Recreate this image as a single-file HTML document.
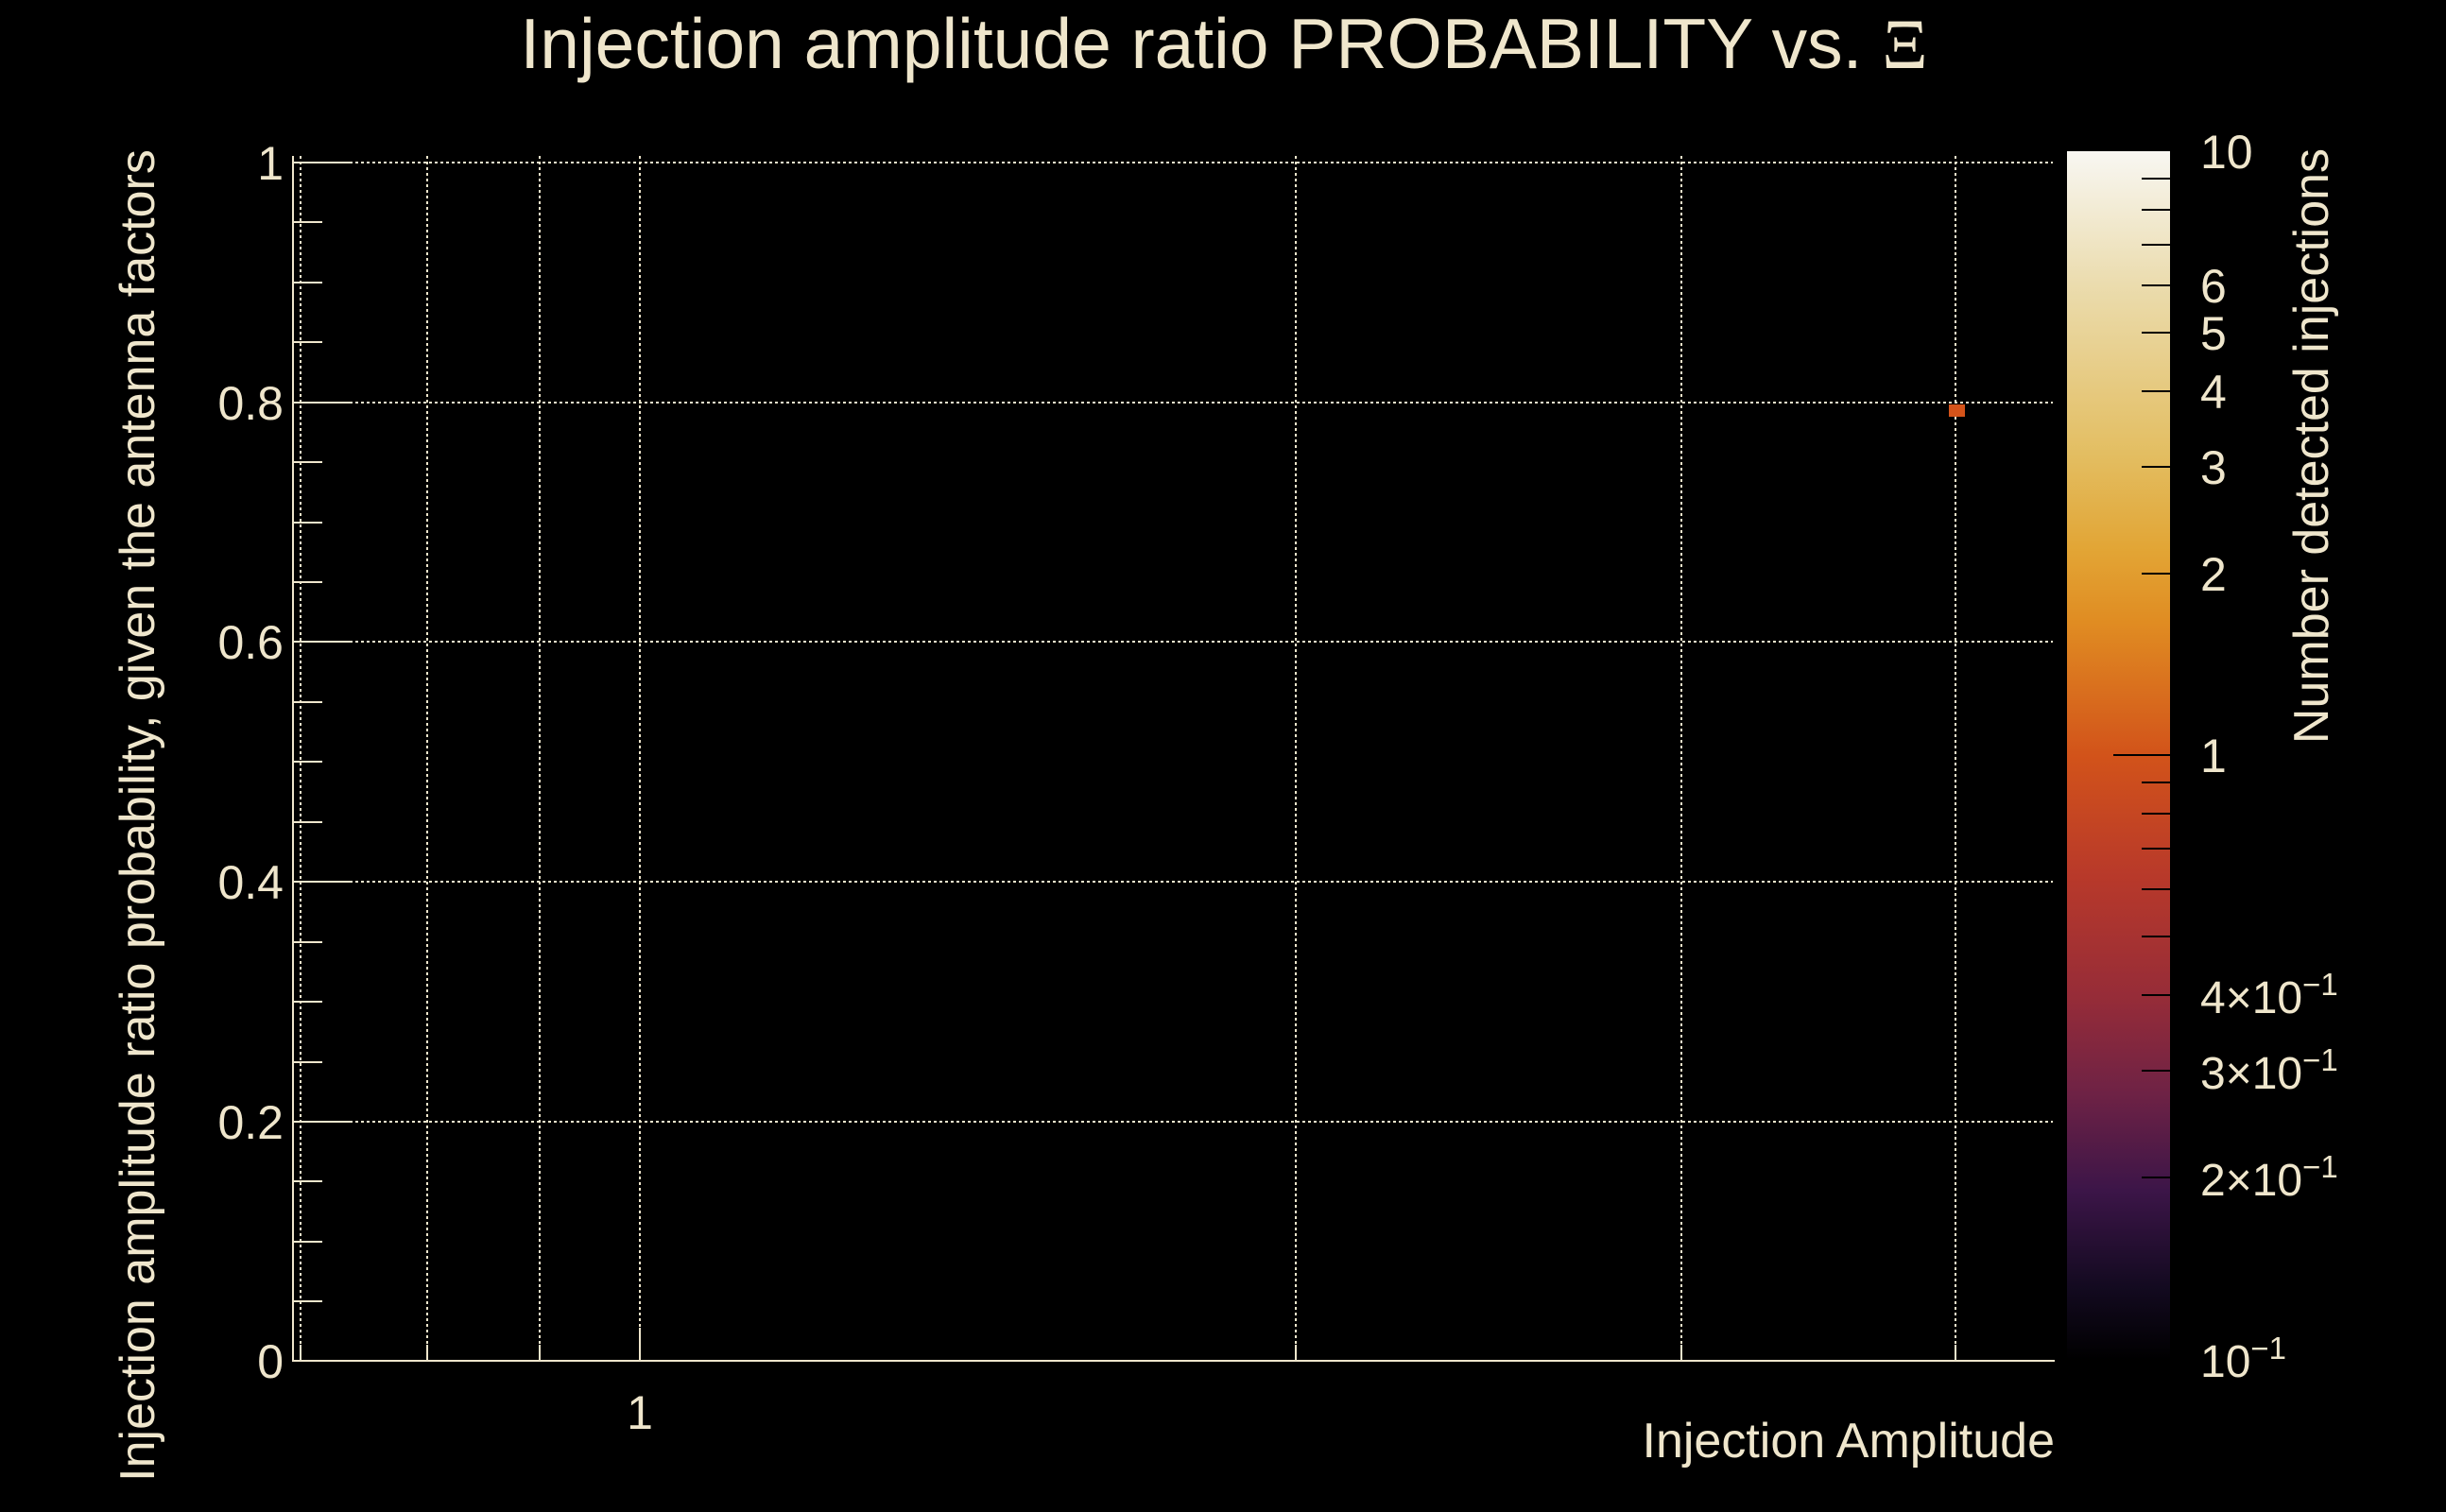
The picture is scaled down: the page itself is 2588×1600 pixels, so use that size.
<!DOCTYPE html>
<html><head><meta charset="utf-8"><style>
html,body{margin:0;padding:0;background:#000;}
svg{display:block;}
text{font-family:"Liberation Sans",sans-serif;fill:#efe6cc;}
</style></head><body>
<svg width="2588" height="1600" xmlns="http://www.w3.org/2000/svg">
<defs>
<linearGradient id="cb" x1="0" y1="0" x2="0" y2="1">
<stop offset="0" stop-color="#f8f7f2"/>
<stop offset="0.11" stop-color="#ebdcae"/>
<stop offset="0.25" stop-color="#e3be62"/>
<stop offset="0.33" stop-color="#e2a535"/>
<stop offset="0.39" stop-color="#e08c22"/>
<stop offset="0.5" stop-color="#d2531a"/>
<stop offset="0.6" stop-color="#b8392a"/>
<stop offset="0.7" stop-color="#962c38"/>
<stop offset="0.78" stop-color="#6e2245"/>
<stop offset="0.86" stop-color="#3c1548"/>
<stop offset="0.94" stop-color="#130a20"/>
<stop offset="1" stop-color="#000"/>
</linearGradient>
</defs>
<rect width="2588" height="1600" fill="#000"/>
<text x="1295" y="72" font-size="75" text-anchor="middle">Injection amplitude ratio PROBABILITY vs.  <tspan font-family="Liberation Serif,serif">Ξ</tspan></text>
<g stroke="#efe6cc" stroke-width="2" stroke-dasharray="3,3" fill="none">
<line x1="318" y1="165" x2="318" y2="1440"/>
<line x1="452" y1="165" x2="452" y2="1440"/>
<line x1="571" y1="165" x2="571" y2="1440"/>
<line x1="677" y1="165" x2="677" y2="1440"/>
<line x1="1371" y1="165" x2="1371" y2="1440"/>
<line x1="1779" y1="165" x2="1779" y2="1440"/>
<line x1="2069" y1="165" x2="2069" y2="1440"/>
<line x1="310" y1="172" x2="2172" y2="172"/>
<line x1="310" y1="426" x2="2172" y2="426"/>
<line x1="310" y1="679" x2="2172" y2="679"/>
<line x1="310" y1="933" x2="2172" y2="933"/>
<line x1="310" y1="1187" x2="2172" y2="1187"/>
</g>
<g stroke="#efe6cc" stroke-width="2" fill="none">
<line x1="310" y1="165" x2="310" y2="1441"/>
<line x1="310" y1="1440" x2="2174" y2="1440"/>
<line x1="310" y1="172" x2="373" y2="172"/>
<line x1="310" y1="426" x2="373" y2="426"/>
<line x1="310" y1="679" x2="373" y2="679"/>
<line x1="310" y1="933" x2="373" y2="933"/>
<line x1="310" y1="1187" x2="373" y2="1187"/>
<path d="M310 235h31M310 299h31M310 362h31M310 489h31M310 553h31M310 616h31M310 743h31M310 806h31M310 870h31M310 997h31M310 1060h31M310 1124h31M310 1250h31M310 1314h31M310 1377h31"/>
<path d="M318 1423v17M452 1423v17M571 1423v17M677 1405v35M1371 1423v17M1779 1423v17M2069 1423v17"/>
</g>
<g font-size="50" text-anchor="end">
<text x="300" y="190">1</text>
<text x="300" y="444">0.8</text>
<text x="300" y="697">0.6</text>
<text x="300" y="951">0.4</text>
<text x="300" y="1205">0.2</text>
<text x="300" y="1458">0</text>
</g>
<text x="677" y="1512" font-size="50" text-anchor="middle">1</text>
<text x="2174" y="1542" font-size="52" text-anchor="end">Injection Amplitude</text>
<text transform="translate(163,863) rotate(-90)" font-size="52" text-anchor="middle">Injection amplitude ratio probability, given the antenna factors</text>
<rect x="2062" y="428" width="17" height="13" fill="#d5541a"/>
<rect x="2187" y="160" width="109" height="1279" fill="url(#cb)"/>
<g stroke="#000" stroke-width="2">
<path d="M2266 189h30M2266 222h30M2266 259h30M2266 302h30M2266 352h30M2266 414h30M2266 494h30M2266 607h30M2236 799h60M2266 828h30M2266 861h30M2266 898h30M2266 941h30M2266 991h30M2266 1053h30M2266 1133h30M2266 1246h30"/>
</g>
<g font-size="50">
<text x="2328" y="178">10</text>
<text x="2328" y="320">6</text>
<text x="2328" y="370">5</text>
<text x="2328" y="432">4</text>
<text x="2328" y="512">3</text>
<text x="2328" y="625">2</text>
<text x="2328" y="817">1</text>
<text x="2328" y="1072" font-size="48">4×10<tspan font-size="33" dy="-19">−1</tspan></text>
<text x="2328" y="1152" font-size="48">3×10<tspan font-size="33" dy="-19">−1</tspan></text>
<text x="2328" y="1265" font-size="48">2×10<tspan font-size="33" dy="-19">−1</tspan></text>
<text x="2328" y="1457" font-size="48">10<tspan font-size="33" dy="-19">−1</tspan></text>
</g>
<text transform="translate(2463,472) rotate(-90)" font-size="52" text-anchor="middle">Number detected injections</text>
</svg>
</body></html>
